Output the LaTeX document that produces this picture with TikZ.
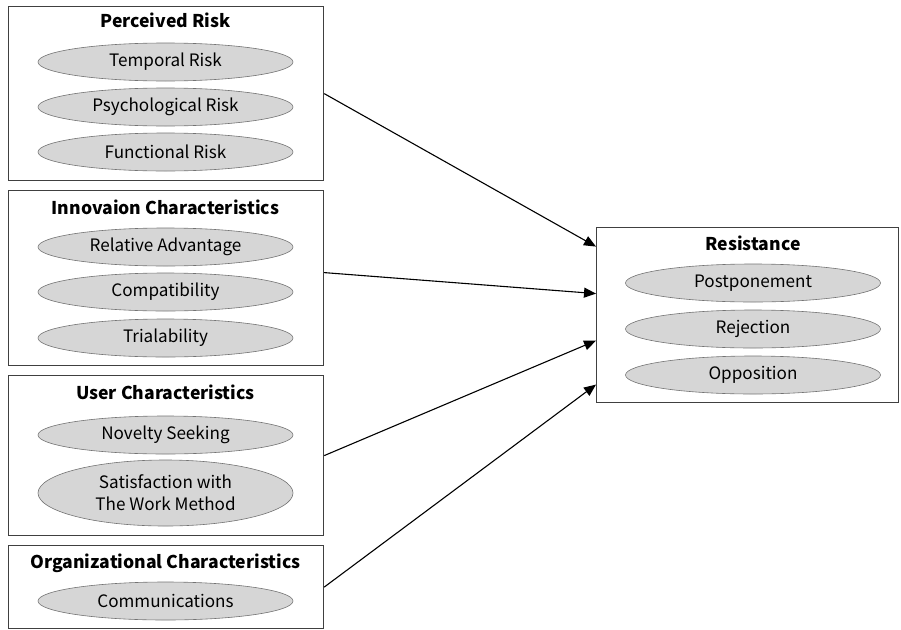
\documentclass[tikz,border=0pt]{standalone}
\usepackage{fontspec}
\setmainfont{Noto Sans CJK KR}
\usetikzlibrary{arrows.meta,shapes.geometric}
\begin{document}
\begin{tikzpicture}[x=1pt,y=-1pt,
  grp/.style={draw=black!75, line width=1.2pt, anchor=north west, inner sep=0pt},
  ttl/.style={font=\fontsize{17.6}{21}\selectfont\bfseries, inner sep=0pt},
  el/.style={ellipse, draw=black!55, line width=0.6pt, fill=black!16, minimum width=255pt, minimum height=38pt, inner sep=0pt, font=\fontsize{17.1}{22}\selectfont, align=center},
  arr/.style={line width=1.1pt, -{Triangle[length=12pt,width=10pt]}}]
\useasboundingbox (0,0) rectangle (901,629);
% Perceived Risk
\node[grp, minimum width=315pt, minimum height=174pt] (pr) at (8,6) {};
\node[ttl] (prt) at (165.5,20) {Perceived Risk};
\node[el] (pr1) at (165.5,62) {Temporal Risk};
\node[el] (pr2) at (165.5,107) {Psychological Risk};
\node[el] (pr3) at (165.5,152) {Functional Risk};
% Innovation
\node[grp, minimum width=315pt, minimum height=175pt] (ic) at (8,190) {};
\node[ttl] (ict) at (165.5,207) {Innovaion Characteristics};
\node[el] (ic1) at (165.5,247) {Relative Advantage};
\node[el] (ic2) at (165.5,292) {Compatibility};
\node[el] (ic3) at (165.5,338) {Trialability};
% User
\node[grp, minimum width=315pt, minimum height=160pt] (uc) at (8,375) {};
\node[ttl] (uct) at (165.5,392) {User Characteristics};
\node[el] (uc1) at (165.5,435) {Novelty Seeking};
\node[el, minimum height=66pt] (uc2) at (165.5,493) {Satisfaction with\\The Work Method};
% Organizational
\node[grp, minimum width=315pt, minimum height=83pt] (oc) at (8,545) {};
\node[ttl] (oct) at (165.5,563) {Organizational Characteristics};
\node[el] (oc1) at (165.5,601) {Communications};
% Resistance
\node[grp, minimum width=302pt, minimum height=175pt] (res) at (596,227) {};
\node[ttl] (rest) at (753,243) {Resistance};
\node[el] (r1) at (753,283) {Postponement};
\node[el] (r2) at (753,329) {Rejection};
\node[el] (r3) at (753,375) {Opposition};
% arrows
\draw[arr] (pr.east) -- ([yshift=68.5pt]res.west);
\draw[arr] ([yshift=5.5pt]ic.east) -- ([yshift=21.5pt]res.west);
\draw[arr] (uc.east) -- ([yshift=-25.5pt]res.west);
\draw[arr] (oc.east) -- ([yshift=-69.5pt]res.west);
\end{tikzpicture}
\end{document}
